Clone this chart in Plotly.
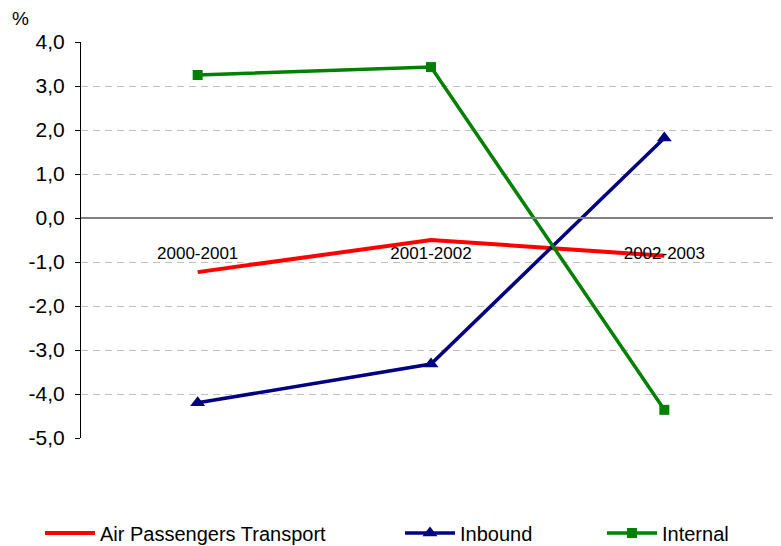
import plotly.graph_objects as go

categories = ["2000-2001", "2001-2002", "2002-2003"]
air = [-1.23, -0.50, -0.86]
inbound = [-4.20, -3.32, 1.82]
internal = [3.25, 3.43, -4.36]
y_ticks = [4, 3, 2, 1, 0, -1, -2, -3, -4, -5]
y_tick_text = [f"{v:.1f}".replace(".", ",") for v in y_ticks]

fig = go.Figure()
fig.add_trace(go.Scatter(x=categories, y=air, name="Air Passengers Transport",
                         mode="lines", line=dict(color="#ff0000", width=4),
                         legend="legend"))
fig.add_trace(go.Scatter(x=categories, y=inbound, name="Inbound",
                         mode="lines+markers", line=dict(color="#000080", width=3.5),
                         marker=dict(symbol="triangle-up", size=13, color="#000080"),
                         legend="legend2"))
fig.add_trace(go.Scatter(x=categories, y=internal, name="Internal",
                         mode="lines+markers", line=dict(color="#008000", width=3.5),
                         marker=dict(symbol="square", size=10, color="#008000"),
                         legend="legend3"))

leg_common = dict(orientation="h", yanchor="middle", xanchor="left",
                  yref="container", y=0.024, itemwidth=50,
                  bgcolor="rgba(0,0,0,0)",
                  font=dict(family="Liberation Sans, Arial", size=20, color="black"))

fig.update_layout(
    width=773, height=538,
    margin=dict(l=73, r=0, t=34, b=108),
    plot_bgcolor="white", paper_bgcolor="white",
    font=dict(family="Liberation Sans, Arial", size=18, color="black"),
    showlegend=True,
    legend=dict(x=-0.0586, **leg_common),
    legend2=dict(x=0.4557, **leg_common),
    legend3=dict(x=0.7443, **leg_common),
    xaxis=dict(type="category", anchor="free", position=5/9,
               showline=True, linecolor="#808080", linewidth=1.5,
               showgrid=False, ticks="", ticklabelstandoff=20,
               tickfont=dict(size=17), range=[-0.5, 2.5]),
    yaxis=dict(range=[-5, 4], tickvals=y_ticks, ticktext=y_tick_text,
               showgrid=True, gridcolor="#c0c0c0", griddash="7px,5px", gridwidth=1,
               zeroline=False, showline=True, linecolor="black", linewidth=1,
               ticks="outside", ticklen=5, tickcolor="black",
               ticklabelstandoff=6, tickfont=dict(size=21)),
    annotations=[dict(text="%", xref="paper", yref="paper", x=-0.087, y=1.06,
                      xanchor="center", yanchor="middle", showarrow=False,
                      font=dict(size=19))],
)

fig.write_html("out.html")
